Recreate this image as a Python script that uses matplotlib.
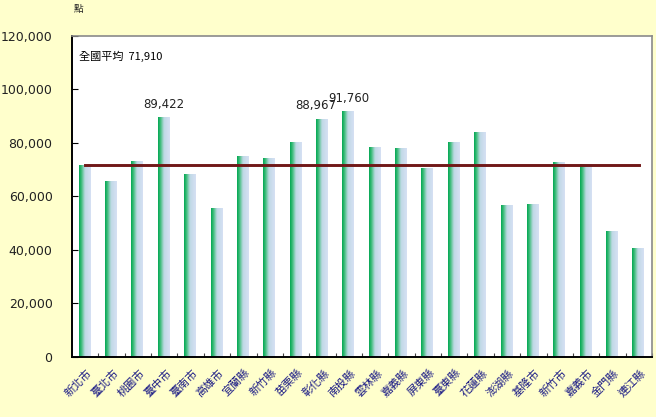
import matplotlib.pyplot as plt
import numpy as np
from matplotlib.colors import LinearSegmentedColormap

counties = ['新北市', '臺北市', '桃園市', '臺中市', '臺南市', '高雄市', '宜蘭縣', '新竹縣',
            '苗栗縣', '彰化縣', '南投縣', '雲林縣', '嘉義縣', '屏東縣', '臺東縣', '花蓮縣',
            '澎湖縣', '基隆市', '新竹市', '嘉義市', '金門縣', '連江縣']
points = [71600, 65600, 73100, 89422, 68200, 55500, 74800, 74200,
          80200, 88967, 91760, 78400, 78000, 70500, 80200, 84000,
          56600, 57000, 72700, 72000, 46900, 40500]
labeled = {'臺中市': '89,422', '彰化縣': '88,967', '南投縣': '91,760'}
national_avg = 71910

cjk = ['Noto Sans CJK TC', 'DejaVu Sans']

fig = plt.figure(figsize=(6.56, 4.17), dpi=100, facecolor='#FFFFCC')
ax = fig.add_axes([0.1098, 0.1439, 0.8841, 0.7698])
ax.set_facecolor('white')

x = np.arange(len(counties))
w = 0.43
bars = ax.bar(x - 0.03, points, width=w, color='none', edgecolor='none')

# green -> pale blue gradient in each bar
cmap = LinearSegmentedColormap.from_list('g', [(0, '#00A651'), (0.2, '#3DBD7A'),
                                               (0.5, '#C0D9E6'), (1, '#D6E0F4')])
grad = np.linspace(0, 1, 64).reshape(1, -1)
for b in bars:
    x0, x1 = b.get_x(), b.get_x() + b.get_width()
    ax.imshow(grad, cmap=cmap, aspect='auto', extent=[x0, x1, 0, b.get_height()],
              interpolation='bicubic', zorder=2)

ax.plot([x[0], x[-1]], [national_avg, national_avg], color='#701818', lw=2.1, zorder=3)

for i, c in enumerate(counties):
    if c in labeled:
        dx = -0.25 if c == '彰化縣' else 0
        ax.text(x[i] + dx, points[i] + 2500, labeled[c], ha='center', va='bottom',
                fontsize=8.5, color='#222222', zorder=4)

ax.text(0.012, 0.935, '全國平均  71,910', transform=ax.transAxes, fontsize=8,
        family=cjk, va='center', ha='left')

ax.set_xlim(-0.5, len(counties) - 0.5)
ax.set_ylim(0, 120000)
ax.set_yticks(np.arange(0, 120001, 20000))
ax.set_yticklabels([f'{v:,}' for v in range(0, 120001, 20000)], fontsize=9, color='#222222')
ax.tick_params(axis='y', direction='in', length=4, pad=14)

ax.set_xticks(x + 0.5, minor=False)
ax.set_xticklabels([])
ax.tick_params(axis='x', direction='in', length=3, color='#444444')
for i, c in enumerate(counties):
    ax.text(x[i] + 0.05, -3800, c, rotation=45, ha='right', va='top', fontsize=8,
            family=cjk, color='#1C1C86', rotation_mode='anchor')

for s in ['left', 'bottom']:
    ax.spines[s].set_color('black')
    ax.spines[s].set_linewidth(1.4)
for s in ['top', 'right']:
    ax.spines[s].set_color('#8A8A8A')
    ax.spines[s].set_linewidth(1.2)

fig.text(0.119, 0.978, '點', fontsize=7, family=cjk, va='center', ha='center', color='#222222')

fig.savefig('out.png', dpi=100, facecolor=fig.get_facecolor())
